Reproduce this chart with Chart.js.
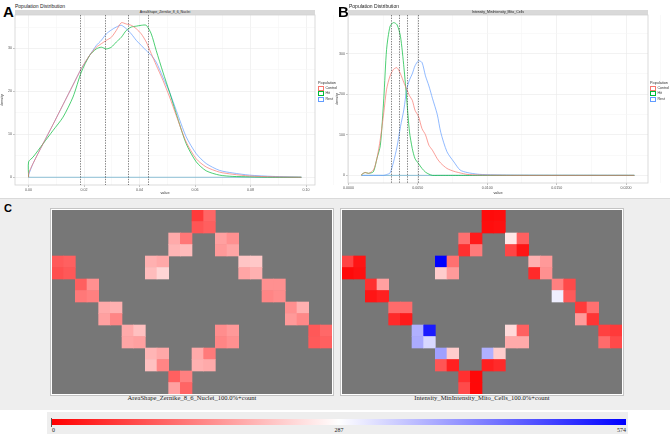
<!DOCTYPE html>
<html><head><meta charset="utf-8">
<script src="https://cdn.jsdelivr.net/npm/chart.js@4.4.1/dist/chart.umd.min.js"></script>
<style>
body{margin:0;width:670px;height:437px;position:relative;background:#fff;font-family:"Liberation Sans",Arial,sans-serif;overflow:hidden}
.abs{position:absolute}
.big{font-weight:bold;font-size:15px;line-height:15px;color:#000}
.ttl{font-size:5px;line-height:6px;color:#222;white-space:nowrap}
.strip{background:#d9d9d9;font-size:3.5px;line-height:5px;height:5px;text-align:center;color:#222;white-space:nowrap}
.leg{font-size:3.6px;line-height:5px;color:#333;white-space:nowrap}
.leg .k{display:inline-block;width:4px;height:3px;border:0.6px solid;vertical-align:middle;margin-right:1.5px;background:#fff}
.frame{position:absolute;border:1px solid #c4c4c4;background:#fff}
.hl{position:absolute;font-family:"Liberation Serif","DejaVu Serif",serif;font-size:6.6px;line-height:8px;text-align:center;color:#222;white-space:nowrap}
.cb{font-family:"Liberation Serif","DejaVu Serif",serif;font-size:6px;line-height:7px;color:#222}
</style></head><body>

<div class="abs big" style="left:3px;top:4px">A</div>
<div class="abs ttl" style="left:15px;top:3px">Population Distribution</div>
<div class="abs strip" style="left:15px;top:10px;width:300px">AreaShape_Zernike_8_6_Nuclei</div>
<canvas id="cA" class="abs" width="335" height="197" style="left:0;top:0"></canvas>
<div class="abs leg" id="legA" style="left:318px;top:81px"></div>

<div class="abs big" style="left:338px;top:4px">B</div>
<div class="abs ttl" style="left:349px;top:3px">Population Distribution</div>
<div class="abs strip" style="left:348px;top:10px;width:300px">Intensity_MinIntensity_Mito_Cells</div>
<canvas id="cB" class="abs" width="335" height="197" style="left:335px;top:0"></canvas>
<div class="abs leg" id="legB" style="left:650px;top:81px"></div>

<div class="abs" style="left:0;top:198px;width:670px;height:211px;background:#eeeeee;border-top:1px solid #dadada"></div>
<div class="abs" style="left:4px;top:203px;font-weight:bold;font-size:11px;line-height:11px">C</div>
<div class="frame" style="left:50px;top:208px;width:282px;height:186px"><canvas id="h1" width="280" height="184" style="position:absolute;left:1px;top:1px"></canvas></div>
<div class="hl" style="left:51px;top:394px;width:282px">AreaShape_Zernike_8_6_Nuclei_100.0%+count</div>
<div class="frame" style="left:340px;top:208px;width:282px;height:186px"><canvas id="h2" width="280" height="184" style="position:absolute;left:1px;top:1px"></canvas></div>
<div class="hl" style="left:341px;top:394px;width:282px">Intensity_MinIntensity_Mito_Cells_100.0%+count</div>

<div class="abs" style="left:47px;top:412px;width:581px;height:22px;background:#eeeeee"></div>
<div class="abs" style="left:51px;top:418px;width:1px;height:9px;background:#555"></div>
<div class="abs" id="grad" style="left:52px;top:419px;width:574px;height:6px"></div>
<div class="abs cb" id="cbl" style="left:52px;top:427px;width:574px;height:7px"></div>

<script>
// ---------- Panel A : AreaShape_Zernike_8_6_Nuclei ----------
const popNames = ['Control', 'Hit', 'Rest'];
const popColors = ['#F8766D', '#00BA38', '#619CFF'];

const aX = [0, 0.0016, 0.0052, 0.0088, 0.0124, 0.0160, 0.0190, 0.0220, 0.0244, 0.0262, 0.0280, 0.0298, 0.0316, 0.0334, 0.0352, 0.0370, 0.0388, 0.0406, 0.0424, 0.0442, 0.0460, 0.0484, 0.0508, 0.0532, 0.0568, 0.0604, 0.0640, 0.0688, 0.0736, 0.0796, 0.0880, 0.0983];
const aControl = [0.9, 3.2, 7.8, 12.3, 16.9, 21.5, 25.3, 28.4, 30.3, 31.1, 31.9, 32.6, 34.2, 36.0, 35.7, 35.4, 34.6, 33.4, 31.5, 28.8, 26.1, 22.6, 18.7, 14.4, 8.2, 4.3, 2.4, 1.2, 0.7, 0.3, 0.1, 0];
const aHit     = [3.6, 4.7, 7.8, 10.9, 14.0, 18.7, 24.5, 28.4, 29.9, 30.3, 29.9, 30.3, 31.5, 32.6, 34.2, 35.0, 35.2, 35.4, 35.4, 33.4, 29.5, 24.5, 19.8, 14.8, 7.8, 3.6, 1.5, 0.5, 0.2, 0.1, 0, 0];
const aRest    = [0.5, 3.2, 7.8, 12.3, 16.9, 21.5, 25.3, 28.4, 30.7, 31.9, 33.4, 34.3, 35.0, 35.4, 34.6, 33.4, 31.9, 30.7, 29.5, 28.4, 26.8, 23.3, 19.8, 15.6, 9.4, 5.5, 3.2, 1.6, 1.0, 0.5, 0.2, 0];
const aMarks = [0.0187, 0.0277, 0.0357, 0.0432];
const aXTicks = [0, 0.02, 0.04, 0.06, 0.08, 0.10];
const aXLabels = ['0.00', '0.02', '0.04', '0.06', '0.08', '0.10'];
const aYTicks = [0, 10, 20, 30];
const aYLabels = ['0', '10', '20', '30'];

// ---------- Panel B : Intensity_MinIntensity_Mito_Cells ----------
const bX = [0.00095, 0.0012, 0.00145, 0.0018, 0.00205, 0.0023, 0.00255, 0.00275, 0.0030, 0.00325, 0.0035, 0.00375, 0.0040, 0.0042, 0.0044, 0.0046, 0.0048, 0.00505, 0.0053, 0.00555, 0.0058, 0.00605, 0.0064, 0.00665, 0.0071, 0.0076, 0.00805, 0.00855, 0.0093, 0.0100, 0.01215, 0.0206];
const bControl = [2, 7, 5, 13, 41, 90, 155, 212, 245, 261, 265, 250, 228, 212, 196, 185, 160, 145, 115, 100, 74, 62, 41, 30, 17, 10, 6, 2.4, 1, 0.5, 0, 0];
const bHit     = [2, 7, 5, 9, 41, 74, 190, 310, 367, 376, 371, 342, 265, 187, 107, 66, 41, 29, 17, 8, 3, 0, 0, 0, 0, 0, 0, 0, 0, 0, 0, 0];
const bRest    = [0, 0, 0, 0, 0, 0, 0, 2, 6, 33, 70, 120, 163, 212, 235, 250, 270, 282, 278, 245, 220, 190, 150, 106, 58, 33, 13, 7, 3, 1.5, 0.5, 0];
const bMarks = [0.00306, 0.00366, 0.00424, 0.00501];
const bXTicks = [0, 0.005, 0.010, 0.015, 0.020];
const bXLabels = ['0.0000', '0.0050', '0.0100', '0.0150', '0.0200'];
const bYTicks = [0, 100, 200, 300];
const bYLabels = ['0', '100', '200', '300'];

// ---------- Panel C : 384-well plate maps ----------
const plateCols = ['1','2','3','4','5','6','7','8','9','10','11','12','13','14','15','16','17','18','19','20','21','22','23','24'];
const plateRows = ['A','B','C','D','E','F','G','H','I','J','K','L','M','N','O','P'];
const wells = ['A13','A14','B13','B14', 'C11','C12','D11','D12', 'C15','C16','D15','D16', 'E1','E2','F1','F2',
  'E9','E10','F9','F10', 'E17','E18','F17','F18', 'G3','G4','H3','H4', 'G19','G20','H19','H20',
  'I5','I6','J5','J6', 'I21','I22','J21','J22', 'K7','K8','L7','L8', 'K15','K16','L15','L16',
  'K23','K24','L23','L24', 'M9','M10','N9','N10', 'M13','M14','N13','N14', 'O11','O12','P11','P12'];
const zernikeCount = [65,115,96,107, 191,134,204,210, 180,162,172,186, 101,108,90,99,
  198,189,212,240, 222,225,186,198, 107,162,135,144, 162,162,150,158,
  191,198,180,150, 161,198,172,153, 191,216,186,180, 159,172,150,162,
  99,117,101,108, 204,189,216,150, 191,137,198,191, 108,144,180,114];
const mitoCount = [12,15,15,18, 126,30,54,137, 260,108,78,24, 76,24,11,18,
  574,126,230,173, 198,172,47,162, 54,180,24,36, 144,83,305,101,
  120,120,47,30, 65,126,173,60, 376,544,382,331, 245,108,191,191,
  72,65,120,83, 394,230,96,36, 376,230,36,47, 54,9,83,9];
const scaleTicks = [0, 287, 574];

// ---------- helpers ----------
function valueColor(v) {
  const mid = scaleTicks[1], max = scaleTicks[2];
  if (v <= mid) { const t = Math.round(255 * v / mid); return `rgb(255,${t},${t})`; }
  const t = Math.round(255 * (1 - (v - mid) / (max - mid))); return `rgb(${t},${t},255)`;
}

const frame = { id: 'frame', beforeDatasetsDraw(chart) {
  const {ctx, chartArea: a} = chart; ctx.save(); ctx.strokeStyle = '#d2d2d2'; ctx.lineWidth = 0.8;
  ctx.strokeRect(a.left, a.top, a.width, a.height); ctx.restore(); } };
const vlines = { id: 'vlines', afterDatasetsDraw(chart, args, o) {
  const {ctx, chartArea: a, scales: {x}} = chart; ctx.save(); ctx.strokeStyle = '#333'; ctx.lineWidth = 0.6; ctx.setLineDash([1.4, 1.2]);
  o.marks.forEach(m => { const px = Math.round(x.getPixelForValue(m)) + 0.5; ctx.beginPath(); ctx.moveTo(px, a.top); ctx.lineTo(px, a.bottom); ctx.stroke(); });
  ctx.restore(); } };

function withMinor(ticks) {
  const out = [];
  ticks.forEach((v, i) => { out.push({value: v, minor: false}); if (i < ticks.length - 1) out.push({value: (v + ticks[i + 1]) / 2, minor: true}); });
  const step = ticks[1] - ticks[0];
  out.push({value: ticks[ticks.length - 1] + step / 2, minor: true});
  return out;
}

function densityChart(id, xs, ys, marks, xr, yr, xT, xL, yT, yL, yw) {
  const datasets = ys.map((vals, i) => ({
    label: popNames[i],
    data: [{x: xs[0], y: 0}].concat(xs.map((x, j) => ({x, y: vals[j]}))),
    borderColor: popColors[i], borderWidth: 0.7, pointRadius: 0, showLine: true, tension: 0.25, fill: false
  }));
  datasets.push({label: 'base', data: [{x: xs[0], y: 0}, {x: xs[xs.length - 1], y: 0}], borderColor: '#5fa8c8', borderWidth: 0.7, pointRadius: 0, showLine: true});
  const gridCol = c => (c.tick && c.tick.minor) ? '#f5f5f5' : '#e9e9e9';
  const tickCol = c => (c.tick && c.tick.minor) ? 'rgba(0,0,0,0)' : '#9a9a9a';
  const tickFont = {family: 'Liberation Sans', size: 3.6};
  new Chart(document.getElementById(id), {
    type: 'scatter',
    data: {datasets},
    options: {
      responsive: false, animation: false,
      layout: {padding: {top: 15, right: 335 - 300 - yw, left: 0, bottom: 0}},
      plugins: {legend: {display: false}, tooltip: {enabled: false}, vlines: {marks}},
      scales: {
        x: {type: 'linear', min: xr[0], max: xr[1],
          afterBuildTicks: s => { s.ticks = withMinor(xT); },
          afterFit: s => { s.height = 197 - 15 - 170 + (yw === 13 ? 2 : 0); },
          border: {display: false},
          grid: {color: gridCol, tickColor: tickCol, lineWidth: 0.6, tickLength: 2},
          ticks: {autoSkip: false, maxRotation: 0, padding: 1, color: '#555', font: tickFont,
            callback: (v, i, t) => t[i].minor ? '' : xL[xT.indexOf(v)]},
          title: {display: true, text: 'value', color: '#333', font: {family: 'Liberation Sans', size: 3.8}, padding: {top: 0, bottom: 2}}
        },
        y: {type: 'linear', min: yr[0], max: yr[1],
          afterBuildTicks: s => { s.ticks = withMinor(yT); },
          afterFit: s => { s.width = yw; },
          border: {display: false},
          grid: {color: gridCol, tickColor: tickCol, lineWidth: 0.6, tickLength: 2},
          ticks: {autoSkip: false, padding: 1, color: '#555', font: tickFont,
            callback: (v, i, t) => t[i].minor ? '' : yL[yT.indexOf(v)]},
          title: {display: true, text: 'density', color: '#333', font: {family: 'Liberation Sans', size: 3.8}, padding: {top: 0, bottom: 1}}
        }
      }
    },
    plugins: [frame, vlines]
  });
}

densityChart('cA', aX, [aControl, aHit, aRest], aMarks, [-0.0049, 0.1032], [-1.8, 37.8], aXTicks, aXLabels, aYTicks, aYLabels, 15);
densityChart('cB', bX, [bControl, bHit, bRest], bMarks, [-0.00003, 0.02158], [-18.8, 394.8], bXTicks, bXLabels, bYTicks, bYLabels, 13);

function legendHtml(el) {
  document.getElementById(el).innerHTML = '<div style="font-size:3.8px">Population</div>' +
    popNames.map((n, i) => `<div><span class="k" style="border-color:${popColors[i]}"></span>${n}</div>`).join('');
}
legendHtml('legA'); legendHtml('legB');

const grayBg = { id: 'grayBg', beforeDraw(chart) {
  const {ctx, chartArea: a} = chart; ctx.save(); ctx.fillStyle = '#777777'; ctx.fillRect(a.left, a.top, a.width, a.height); ctx.restore(); } };

function plateChart(id, values) {
  const data = wells.map(w => { const r = plateRows.indexOf(w[0]); return {x: w.slice(1), y: [r, r + 1]}; });
  new Chart(document.getElementById(id), {
    type: 'bar',
    data: {labels: plateCols, datasets: [{data, backgroundColor: values.map(valueColor), borderWidth: 0, categoryPercentage: 1, barPercentage: 1}]},
    options: {
      responsive: false, animation: false, layout: {padding: 0},
      plugins: {legend: {display: false}, tooltip: {enabled: false}},
      scales: {x: {type: 'category', display: false}, y: {type: 'linear', display: false, min: 0, max: plateRows.length, reverse: true}}
    },
    plugins: [grayBg]
  });
}
plateChart('h1', zernikeCount);
plateChart('h2', mitoCount);

// colour scale bar
document.getElementById('grad').style.background =
  `linear-gradient(to right, ${valueColor(scaleTicks[0])}, ${valueColor(scaleTicks[1])}, ${valueColor(scaleTicks[2])})`;
document.getElementById('cbl').innerHTML = scaleTicks.map((v, i) => {
  const pos = (v - scaleTicks[0]) / (scaleTicks[2] - scaleTicks[0]) * 100;
  const tr = i === 0 ? '0' : (i === scaleTicks.length - 1 ? '-100%' : '-50%');
  return `<span style="position:absolute;left:${pos}%;transform:translateX(${tr})">${v}</span>`;
}).join('');
</script>
</body></html>
